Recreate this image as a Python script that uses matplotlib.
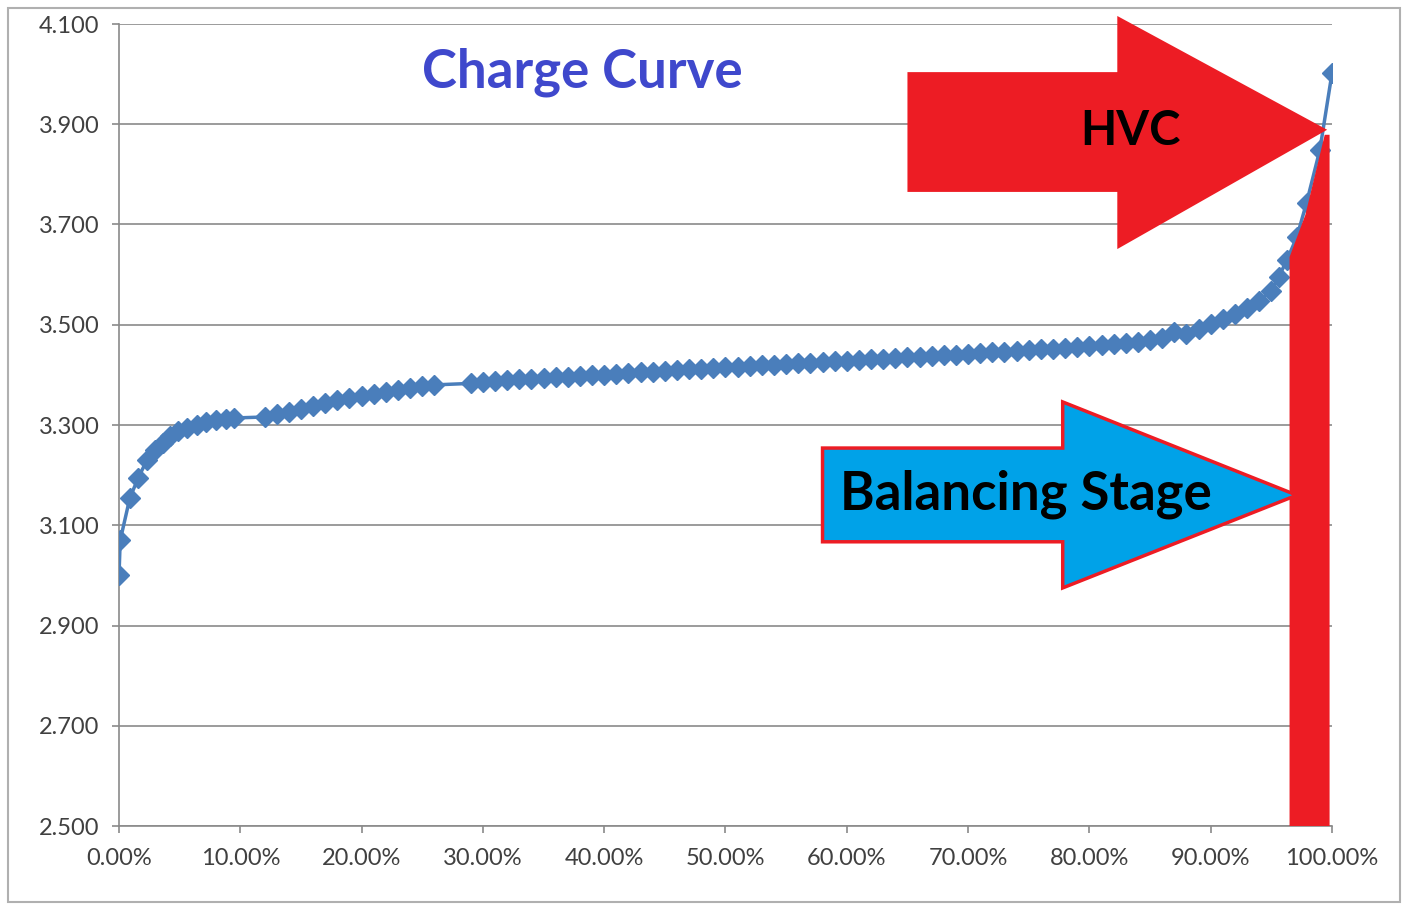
import matplotlib.pyplot as plt
from matplotlib.patches import Polygon, Rectangle

# state of charge (%) and cell voltage (V)
soc = [
    0, 0.1, 0.9, 1.6, 2.3, 3.0, 3.6, 4.2, 4.9, 5.6, 6.4, 7.2, 8.0, 8.8, 9.5,
    12, 13, 14, 15, 16, 17, 18, 19, 20, 21, 22, 23, 24, 25, 26,
    29, 30, 31, 32, 33, 34, 35, 36, 37, 38, 39, 40, 41, 42, 43, 44, 45,
    46, 47, 48, 49, 50, 51, 52, 53, 54, 55, 56, 57, 58, 59, 60, 61, 62,
    63, 64, 65, 66, 67, 68, 69, 70, 71, 72, 73, 74, 75, 76, 77, 78, 79,
    80, 81, 82, 83, 84, 85, 86, 87, 88, 89, 90, 91, 92, 93, 94, 95,
    95.6, 96.3, 97.1, 97.9, 99.0, 100,
]
voltage = [
    3.000, 3.070, 3.155, 3.195, 3.230, 3.250, 3.265, 3.278, 3.288, 3.295,
    3.300, 3.305, 3.309, 3.312, 3.314,
    3.316, 3.321, 3.326, 3.332, 3.338, 3.344, 3.349, 3.354, 3.358, 3.362,
    3.366, 3.370, 3.374, 3.377, 3.380,
    3.383, 3.385, 3.387, 3.389, 3.391, 3.392, 3.393, 3.395, 3.396, 3.397,
    3.399, 3.400, 3.402, 3.403, 3.405, 3.406, 3.408, 3.409, 3.411, 3.412,
    3.414, 3.415, 3.416, 3.418, 3.419, 3.420, 3.421, 3.423, 3.424, 3.425,
    3.427, 3.428, 3.429, 3.431, 3.432, 3.433, 3.435, 3.436, 3.437, 3.439,
    3.440, 3.442, 3.443, 3.445, 3.446, 3.448, 3.449, 3.451, 3.452, 3.454,
    3.455, 3.457, 3.459, 3.461, 3.463, 3.466, 3.469, 3.474, 3.486, 3.481,
    3.492, 3.502, 3.512, 3.522, 3.533, 3.548, 3.568,
    3.595, 3.630, 3.675, 3.743, 3.849, 4.002,
]

y_ticks = [2.5, 2.7, 2.9, 3.1, 3.3, 3.5, 3.7, 3.9, 4.1]
x_ticks = [0, 10, 20, 30, 40, 50, 60, 70, 80, 90, 100]

# annotation shapes (data coordinates)
hvc_arrow = [(65.0, 4.004), (82.3, 4.004), (82.3, 4.116), (99.6, 3.889),
             (82.3, 3.651), (82.3, 3.765), (65.0, 3.765)]
hvc_bar = [(96.5, 2.5), (96.5, 3.635), (97.8, 3.719), (98.7, 3.809),
           (99.4, 3.879), (99.8, 3.879), (99.8, 2.5)]
balance_arrow = [(58.0, 3.254), (77.8, 3.254), (77.8, 3.346), (97.1, 3.160),
                 (77.8, 2.975), (77.8, 3.067), (58.0, 3.067)]

plt.rcParams['font.family'] = ['Lato', 'DejaVu Sans']

fig = plt.figure(figsize=(14.08, 9.05), dpi=100)
ax = fig.add_axes([119 / 1408, 1 - 826 / 905, (1332 - 119) / 1408, (826 - 24) / 905])

grey = '#8a8a8a'
ax.plot(soc, voltage, color='#4a7ebb', lw=2.5, marker='D', markersize=10,
        markeredgecolor='#4a7ebb', zorder=3)

ax.set_xlim(0, 100)
ax.set_ylim(2.5, 4.1)
ax.set_yticks(y_ticks)
ax.set_yticklabels([f'{v:.3f}' for v in y_ticks])
ax.set_xticks(x_ticks)
ax.set_xticklabels([f'{v:.2f}%' for v in x_ticks])
ax.grid(axis='y', color=grey, lw=1.2, zorder=1)
ax.set_axisbelow(True)
for s in ['top', 'right']:
    ax.spines[s].set_visible(False)
for s in ['left', 'bottom']:
    ax.spines[s].set_color(grey)
    ax.spines[s].set_linewidth(1.2)
ax.tick_params(axis='both', colors=grey, labelcolor='#404040', labelsize=17,
               length=5, width=1.2)
ax.tick_params(axis='y', pad=9)
ax.tick_params(axis='x', pad=11)

ax.add_patch(Polygon(hvc_arrow, closed=True, facecolor='#ed1c24',
                     edgecolor='none', clip_on=False, zorder=5))
ax.add_patch(Polygon(hvc_bar, closed=True, facecolor='#ed1c24',
                     edgecolor='none', clip_on=False, zorder=5))
ax.add_patch(Polygon(balance_arrow, closed=True, facecolor='#00a2e8',
                     edgecolor='#ed1c24', lw=2.5, clip_on=False, zorder=5))

ax.text(83.4, 3.886, 'HVC', fontsize=34, fontweight='bold', color='black',
        ha='center', va='center', zorder=6)
ax.text(59.4, 3.162, 'Balancing Stage', fontsize=38, fontweight='bold',
        color='black', ha='left', va='center', zorder=6)
ax.text(38.2, 4.003, 'Charge Curve', fontsize=38, fontweight='bold',
        color='#3f48cc', ha='center', va='center', zorder=6)

# chart border
fig.add_artist(Rectangle((8 / 1408, 3 / 905), 1392 / 1408, 894 / 905,
                         transform=fig.transFigure, fill=False,
                         edgecolor='#b0b0b0', lw=1.5))

plt.savefig('out.png', dpi=100)
